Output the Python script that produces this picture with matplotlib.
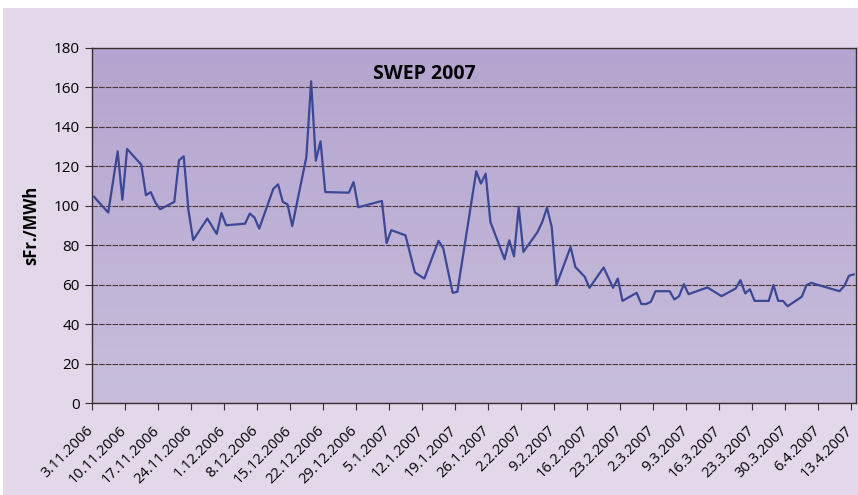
import numpy as np
import matplotlib.pyplot as plt
import matplotlib.transforms as mtransforms
from matplotlib.colors import LinearSegmentedColormap
from matplotlib.patches import Rectangle

# days since 3.11.2006 and price in sFr./MWh
days = [0, 3, 5, 6, 7, 10, 11, 12, 13, 14, 17, 18, 19, 20, 21, 24, 26, 27, 28,
        32, 33, 34, 35, 38, 39, 40, 41, 42, 45, 46, 47, 48, 49, 54, 55, 56,
        61, 62, 63, 66, 68, 70, 73, 74, 76, 77, 81, 82, 83, 84, 87, 88, 89,
        90, 91, 94, 95, 96, 97, 98, 101, 102, 103, 104, 105, 108, 110, 111,
        112, 115, 116, 117, 118, 119, 122, 123, 124, 125, 126, 130, 133, 136,
        137, 138, 139, 140, 143, 144, 145, 146, 147, 150, 151, 152, 158, 159,
        160, 161]
price = [104.5, 96.5, 127.5, 103, 128.7, 120.8, 105.3, 106.9, 101.6, 98.2,
         101.9, 123, 125, 97.7, 82.6, 93.5, 85.7, 96.3, 90.1, 90.9, 96, 94,
         88.4, 108.6, 110.8, 101.9, 100.7, 89.7, 124.7, 163, 122.8, 132.6,
         106.9, 106.6, 112, 99.2, 102.4, 81.1, 87.6, 85, 66.2, 63.1, 82.2,
         78.5, 55.9, 56.4, 117.4, 111.2, 116.2, 91.8, 72.9, 82.5, 74.4, 99.4,
         76.6, 86.7, 91.8, 99, 89.2, 59.8, 79.1, 69, 66.5, 64, 58.4, 68.7,
         58.4, 63.1, 51.8, 55.9, 50.2, 50.2, 51.3, 56.7, 56.7, 52.5, 54.2,
         60.3, 55.2, 58.6, 54.2, 58.1, 62.3, 55.6, 57.7, 51.8, 51.8, 59.8,
         51.8, 51.8, 49.1, 53.9, 59.8, 60.9, 56.7, 59.3, 64.5, 65.2]

tick_labels = ["3.11.2006", "10.11.2006", "17.11.2006", "24.11.2006",
               "1.12.2006", "8.12.2006", "15.12.2006", "22.12.2006",
               "29.12.2006", "5.1.2007", "12.1.2007", "19.1.2007",
               "26.1.2007", "2.2.2007", "9.2.2007", "16.2.2007", "23.2.2007",
               "2.3.2007", "9.3.2007", "16.3.2007", "23.3.2007", "30.3.2007",
               "6.4.2007", "13.4.2007"]

plt.rcParams['font.family'] = ['Open Sans', 'DejaVu Sans']

fig = plt.figure(figsize=(8.58, 4.95), dpi=100, facecolor='white')
fig.patches.append(Rectangle((0.003, 0), 0.997, 0.984, transform=fig.transFigure,
                             facecolor='#e2d8e9', edgecolor='none', zorder=-10))
ax = fig.add_axes([0.1069, 0.1855, 0.8908, 0.7181])

# plot area gradient, darker at the top
cmap = LinearSegmentedColormap.from_list('bg', ['#c8bedc', '#b4a4cf'])
grad = np.linspace(0, 1, 256).reshape(-1, 1)
ax.imshow(grad, extent=[0, 1, 0, 1], transform=ax.transAxes, aspect='auto',
          cmap=cmap, origin='lower', zorder=0)

ax.plot(days, price, color='#3c4796', linewidth=1.6, zorder=3)

ax.set_xlim(-0.5, 161.5)
ax.set_ylim(0, 180)
ax.set_yticks(np.arange(0, 181, 20))
ax.set_xticks(np.arange(len(tick_labels)) * 7 - 0.5)
ax.set_xticklabels(tick_labels, rotation=45, ha='right', rotation_mode='anchor',
                   fontsize=10.5)
ax.tick_params(axis='y', labelsize=11, length=5, color='#3a2e2e')
ax.tick_params(axis='x', length=5, color='#3a2e2e', pad=3)

# shift the slanted date labels down-left like the original
shift = mtransforms.ScaledTranslation(-0.06, -0.09, fig.dpi_scale_trans)
for lbl in ax.get_xticklabels():
    lbl.set_transform(lbl.get_transform() + shift)

ax.grid(axis='y', color='#4a3838', linewidth=0.8, linestyle=(0, (5, 1)), zorder=1)
for s in ax.spines.values():
    s.set_color('#3a2e2e')
    s.set_linewidth(1.0)
    s.set_zorder(4)

ax.set_ylabel('sFr./MWh', fontsize=12, fontweight='bold', labelpad=10)
ax.text(0.435, 0.925, 'SWEP 2007', transform=ax.transAxes, ha='center',
        va='center', fontsize=14, fontweight='bold', zorder=5)

fig.savefig('out.png', dpi=100, facecolor=fig.get_facecolor())
